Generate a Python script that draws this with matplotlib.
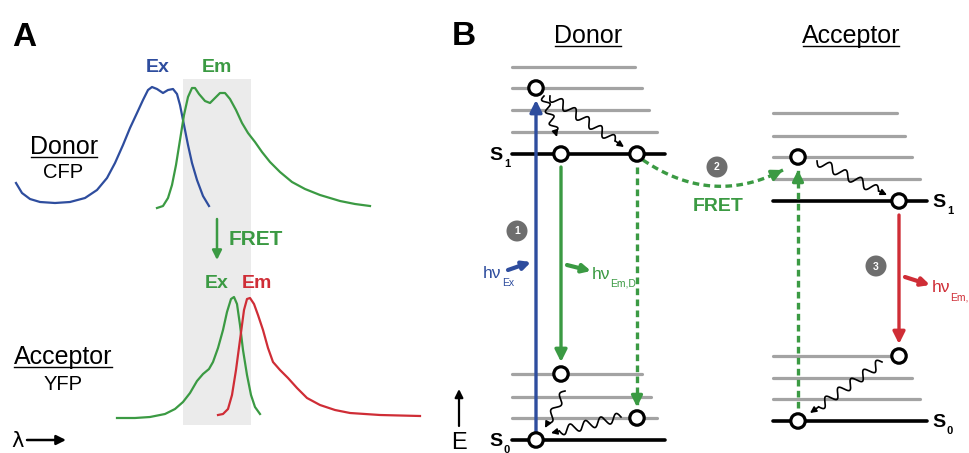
import numpy as np
import matplotlib.pyplot as plt
from matplotlib.patches import Circle, Rectangle

plt.rcParams['font.family'] = ['Liberation Sans', 'DejaVu Sans']

BLUE = '#2e4d9e'
GREEN = '#3b9a43'
RED = '#cf2d36'
LGREY = '#a3a3a3'
BAND = '#ebebeb'

# panel A spectra (x, y in picture pixels)
donor_ex_x = [16, 22, 30, 40, 55, 70, 85, 97, 107, 115, 123, 130, 137, 143, 148, 152, 157, 163, 168, 173, 177, 180, 184, 188, 192, 197, 203, 209]
donor_ex_y = [183, 193, 199, 202, 203, 202, 198, 190, 178, 163, 145, 128, 113, 100, 90, 87, 89, 93, 90, 89, 94, 105, 125, 145, 163, 180, 196, 206]
donor_em_x = [157, 163, 168, 172, 176, 180, 184, 188, 192, 195, 199, 205, 210, 215, 220, 225, 230, 236, 242, 248, 255, 262, 270, 280, 292, 305, 320, 340, 355, 370]
donor_em_y = [208, 206, 198, 185, 165, 140, 115, 97, 88, 88, 94, 101, 103, 98, 93, 93, 99, 110, 123, 133, 142, 152, 162, 172, 182, 189, 195, 201, 204, 206]
acc_ex_x = [117, 135, 150, 165, 175, 183, 190, 197, 203, 209, 213, 218, 223, 227, 231, 234, 237, 240, 243, 247, 251, 255, 260]
acc_ex_y = [418, 418, 417, 414, 409, 402, 393, 381, 374, 369, 362, 348, 330, 312, 299, 297, 304, 325, 350, 375, 395, 407, 414]
acc_em_x = [218, 223, 228, 232, 236, 240, 244, 247, 250, 254, 258, 263, 268, 273, 280, 288, 297, 307, 320, 335, 350, 380, 420]
acc_em_y = [415, 414, 409, 395, 370, 340, 310, 299, 298, 304, 315, 330, 348, 362, 370, 378, 388, 398, 405, 410, 413, 415, 416]

# panel B energy levels: (y, x_start, x_end)
donor_upper = [(67, 512, 635), (88, 512, 642), (110, 512, 649), (132, 512, 657)]
donor_lower = [(374, 512, 642), (397, 512, 651), (418, 512, 657)]
donor_s1 = (154, 512, 665)
donor_s0 = (440, 512, 665)
acc_upper = [(113, 773, 897), (136, 773, 905), (157, 773, 912), (179, 773, 920)]
acc_lower = [(356, 773, 905), (378, 773, 912), (399, 773, 920)]
acc_s1 = (201, 773, 927)
acc_s0 = (421, 773, 927)
states = [(536, 88), (561, 154), (637, 154), (561, 374), (637, 418), (536, 440),
          (798, 157), (899, 201), (899, 356), (798, 421)]

fig = plt.figure(figsize=(9.69, 4.53), dpi=100)
ax = fig.add_axes([0, 0, 1, 1])
ax.set_xlim(0, 969)
ax.set_ylim(453, 0)
ax.axis('off')


def arrow(p0, p1, color, lw=2.4, ms=16, ls='-'):
    ax.annotate('', xy=p1, xytext=p0,
                arrowprops=dict(arrowstyle='-|>', color=color, lw=lw, mutation_scale=ms,
                                shrinkA=0, shrinkB=0, linestyle=ls))


def dashed_arrow(xs, ys, color):
    ax.plot(xs, ys, color=color, lw=2.4, ls=(0, (2.0, 1.3)), solid_capstyle='butt')
    arrow((xs[-2], ys[-2]), (xs[-1], ys[-1]), color)


def wavy(p0, p1, waves=5, amp=4.5):
    p0 = np.array(p0, float)
    p1 = np.array(p1, float)
    d = p1 - p0
    L = np.hypot(*d)
    u = d / L
    n = np.array([-u[1], u[0]])
    t = np.linspace(0, 1, 200)
    end = 0.88
    tt = t * end
    w = amp * np.sin(2 * np.pi * waves * tt / end)
    pts = p0[None, :] + tt[:, None] * d[None, :] + w[:, None] * n[None, :]
    ax.plot(pts[:, 0], pts[:, 1], color='black', lw=1.2)
    arrow(tuple(pts[-1]), tuple(p1), 'black', lw=1.2, ms=9)


# ---------------- panel A ----------------
ax.text(12, 46, 'A', fontsize=24, fontweight='bold', ha='left', va='baseline')
ax.add_patch(Rectangle((183, 79), 68, 346, facecolor=BAND, edgecolor='none', zorder=0))
ax.plot(donor_ex_x, donor_ex_y, color=BLUE, lw=1.6)
ax.plot(donor_em_x, donor_em_y, color=GREEN, lw=1.6)
ax.plot(acc_ex_x, acc_ex_y, color=GREEN, lw=1.6)
ax.plot(acc_em_x, acc_em_y, color=RED, lw=1.6)

ax.text(158, 72, 'Ex', color=BLUE, fontsize=14, fontweight='bold', ha='center', va='baseline')
ax.text(217, 72, 'Em', color=GREEN, fontsize=14, fontweight='bold', ha='center', va='baseline')
ax.text(217, 288, 'Ex', color=GREEN, fontsize=14, fontweight='bold', ha='center', va='baseline')
ax.text(257, 288, 'Em', color=RED, fontsize=14, fontweight='bold', ha='center', va='baseline')
arrow((217, 219), (217, 260), GREEN, lw=1.8, ms=14)
ax.text(229, 245, 'FRET', color=GREEN, fontsize=15, fontweight='bold', ha='left', va='baseline')

ax.text(64, 154, 'Donor', fontsize=18, ha='center', va='baseline')
ax.plot([31, 97], [157, 157], color='black', lw=1.0)
ax.text(63, 178, 'CFP', fontsize=14.5, ha='center', va='baseline')
ax.text(63, 364, 'Acceptor', fontsize=18, ha='center', va='baseline')
ax.plot([14, 112], [367, 367], color='black', lw=1.0)
ax.text(63, 390, 'YFP', fontsize=14.5, ha='center', va='baseline')
ax.text(11, 447, 'λ', fontsize=15, ha='left', va='baseline', family='DejaVu Sans')
arrow((27, 440), (66, 440), 'black', lw=1.8, ms=14)

# ---------------- panel B ----------------
ax.text(452, 45, 'B', fontsize=24, fontweight='bold', ha='left', va='baseline')
ax.text(588, 43, 'Donor', fontsize=18, ha='center', va='baseline')
ax.plot([555, 621], [46, 46], color='black', lw=1.0)
ax.text(851, 43, 'Acceptor', fontsize=18, ha='center', va='baseline')
ax.plot([803, 899], [46, 46], color='black', lw=1.0)

for y, x0, x1 in donor_upper + donor_lower + acc_upper + acc_lower:
    ax.plot([x0, x1], [y, y], color=LGREY, lw=2.3, solid_capstyle='round', zorder=1)
for y, x0, x1 in [donor_s1, donor_s0, acc_s1, acc_s0]:
    ax.plot([x0, x1], [y, y], color='black', lw=2.6, solid_capstyle='round', zorder=2)

# transitions
arrow((536, 433), (536, 100), BLUE, lw=2.4, ms=18)
arrow((561, 167), (561, 362), GREEN, lw=2.4, ms=18)
arrow((899, 215), (899, 344), RED, lw=2.4, ms=18)
dashed_arrow([637, 637, 637], [167, 395, 407], GREEN)
dashed_arrow([798, 798, 798], [408, 182, 170], GREEN)

# curved FRET transfer
tb = np.linspace(0, 1, 100)
bx = (1 - tb) ** 2 * 643 + 2 * (1 - tb) * tb * 712 + tb ** 2 * 783
by = (1 - tb) ** 2 * 160 + 2 * (1 - tb) * tb * 207 + tb ** 2 * 170
dashed_arrow(list(bx[:-8]) + [bx[-1]], list(by[:-8]) + [by[-1]], GREEN)
ax.text(718, 211, 'FRET', color=GREEN, fontsize=14, fontweight='bold', ha='center', va='baseline')

# vibrational relaxation
wavy((544, 96), (557, 137), waves=3, amp=3.5)
wavy((550, 96), (624, 147), waves=5, amp=4.5)
wavy((565, 391), (545, 428), waves=2, amp=3.5)
wavy((621, 417), (551, 433), waves=4, amp=4.5)
wavy((817, 161), (887, 195), waves=4, amp=4.5)
wavy((882, 362), (810, 413), waves=5, amp=4.5)

for x, y in states:
    ax.add_patch(Circle((x, y), 7.2, facecolor='white', edgecolor='black', lw=2.3, zorder=5))

# step markers
for (x, y), s in zip([(517, 231), (717, 167), (876, 266)], ['1', '2', '3']):
    ax.add_patch(Circle((x, y), 10.5, facecolor='#6e6e6e', edgecolor='none', zorder=4))
    ax.text(x, y + 0.5, s, color='white', fontsize=7.5, fontweight='bold', ha='center', va='center', zorder=5)

# photons
arrow((508, 270), (531, 262), BLUE, lw=3, ms=12)
ax.text(483, 278, 'hν', color=BLUE, fontsize=12.5, ha='left', va='baseline')
ax.text(502, 286, 'Ex', color=BLUE, fontsize=7.5, ha='left', va='baseline')
arrow((567, 265), (591, 271), GREEN, lw=3, ms=12)
ax.text(592, 279, 'hν', color=GREEN, fontsize=12.5, ha='left', va='baseline')
ax.text(610, 287, 'Em,D', color=GREEN, fontsize=7.5, ha='left', va='baseline')
arrow((905, 277), (930, 285), RED, lw=3, ms=12)
ax.text(932, 292, 'hν', color=RED, fontsize=12.5, ha='left', va='baseline')
ax.text(950, 300, 'Em,', color=RED, fontsize=7.5, ha='left', va='baseline')

# state labels
for x, y, sub in [(496, 154, '1'), (496, 440, '0'), (939, 201, '1'), (939, 421, '0')]:
    ax.text(x, y + 6, 'S', fontsize=14, fontweight='bold', ha='center', va='baseline')
    ax.text(x + 11, y + 13, sub, fontsize=8, fontweight='bold', ha='center', va='baseline')

arrow((459, 426), (459, 389), 'black', lw=1.6, ms=12)
ax.text(459, 449, 'E', fontsize=17, ha='center', va='baseline')

fig.savefig('out.png', dpi=100)
